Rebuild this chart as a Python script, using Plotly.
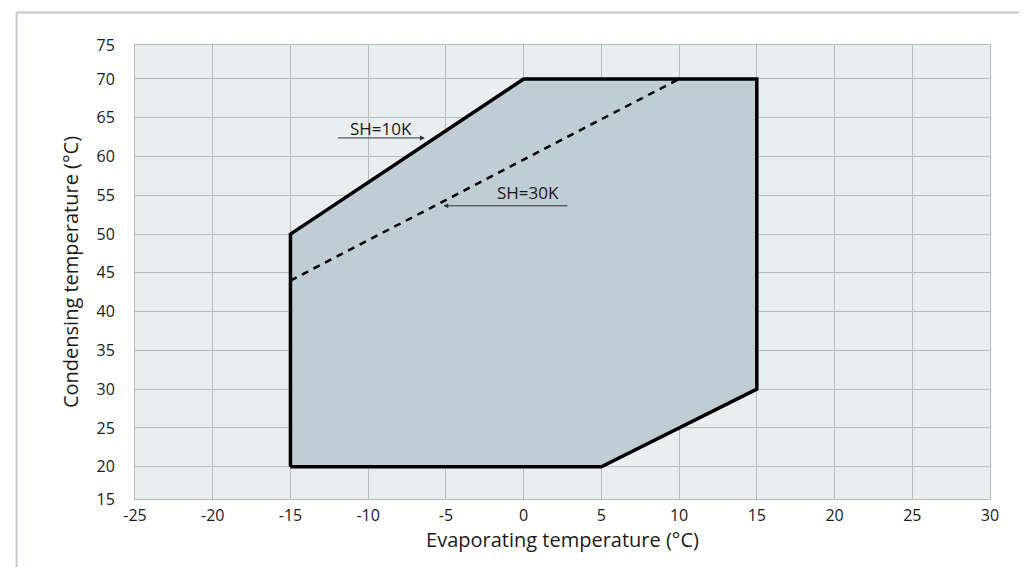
import plotly.graph_objects as go

# Operating envelope (SH=10K)
env_x = [-15, -15, 0, 15, 15, 5, -15]
env_y = [20, 50, 70, 70, 30, 20, 20]
# SH=30K limit line
sh30_x = [-15, 10]
sh30_y = [44, 70]

x_ticks = list(range(-25, 31, 5))
x_tick_labels = ["-25", "-20", "-15", "-10", "-5", "0", "5", "10", "15", "20", "25", "30"]
y_tick_labels = ["15", "20", "25", "30", "35", "40", "45", "50", "55", "60", "65", "70", "75"]
y_lo, y_hi = 15.84, 74.38  # plot edges (labelled 15 and 75 in the source)
y_tick_vals = [y_lo] + list(range(20, 71, 5)) + [y_hi]

FONT = "Open Sans"
TXT = "#1a1a1a"

fig = go.Figure()
fig.add_trace(go.Scatter(x=env_x, y=env_y, mode="lines", fill="toself",
                         fillcolor="#BFCDD4", line=dict(color="rgba(0,0,0,0)", width=0),
                         hoverinfo="skip", showlegend=False))
fig.add_trace(go.Scatter(x=env_x, y=env_y, mode="lines",
                         line=dict(color="#000000", width=3.5), hoverinfo="skip",
                         showlegend=False))
fig.add_trace(go.Scatter(x=sh30_x, y=sh30_y, mode="lines",
                         line=dict(color="#000000", width=2.5, dash="7px,6px"),
                         hoverinfo="skip", showlegend=False))

# Annotations with arrows
fig.add_annotation(x=-6.35, y=62.4, ax=-12.05, ay=62.4, axref="x", ayref="y",
                   xref="x", yref="y", text="", showarrow=True, arrowhead=2,
                   arrowsize=1, arrowwidth=1, arrowcolor="#333333")
fig.add_annotation(x=-9.2, y=63.6, text="SH=10K", showarrow=False,
                   font=dict(family=FONT, size=17, color=TXT))
fig.add_annotation(x=-5.17, y=53.65, ax=2.92, ay=53.65, axref="x", ayref="y",
                   xref="x", yref="y", text="", showarrow=True, arrowhead=2,
                   arrowsize=1, arrowwidth=1, arrowcolor="#333333")
fig.add_annotation(x=0.27, y=55.4, text="SH=30K", showarrow=False,
                   font=dict(family=FONT, size=17, color=TXT))

# Outer frame lines (top and left) of the source image
fig.add_shape(type="line", xref="paper", yref="paper", x0=-0.1385, x1=1.06, y0=1.0718, y1=1.0718,
              line=dict(color="#C3C9CE", width=2))
fig.add_shape(type="line", xref="paper", yref="paper", x0=-0.1385, x1=-0.1385, y0=1.0718, y1=-0.2,
              line=dict(color="#C3C9CE", width=2))

fig.update_layout(
    width=1027, height=567,
    margin=dict(l=127, r=45, t=37, b=76),
    paper_bgcolor="white", plot_bgcolor="#E9EEF1",
    font=dict(family=FONT, size=16, color=TXT),
    showlegend=False,
)
fig.update_xaxes(range=[-25, 30], tickvals=x_ticks, ticktext=x_tick_labels, ticks="",
                 showgrid=True, gridcolor="#BBBBBB", gridwidth=1,
                 showline=True, linecolor="#BBBBBB", linewidth=1, mirror=True,
                 zeroline=False, tickfont=dict(size=16), ticklabelstandoff=2,
                 title=dict(text="Evaporating temperature (°C)", font=dict(size=20), standoff=2))
fig.update_yaxes(range=[y_lo, y_hi], tickvals=y_tick_vals, ticktext=y_tick_labels, ticks="",
                 showgrid=True, gridcolor="#BBBBBB", gridwidth=1,
                 showline=True, linecolor="#BBBBBB", linewidth=1, mirror=True,
                 zeroline=False, tickfont=dict(size=16), ticklabelstandoff=16,
                 title=dict(text="Condensing temperature (°C)", font=dict(size=20), standoff=12))

fig.write_html("out.html")
